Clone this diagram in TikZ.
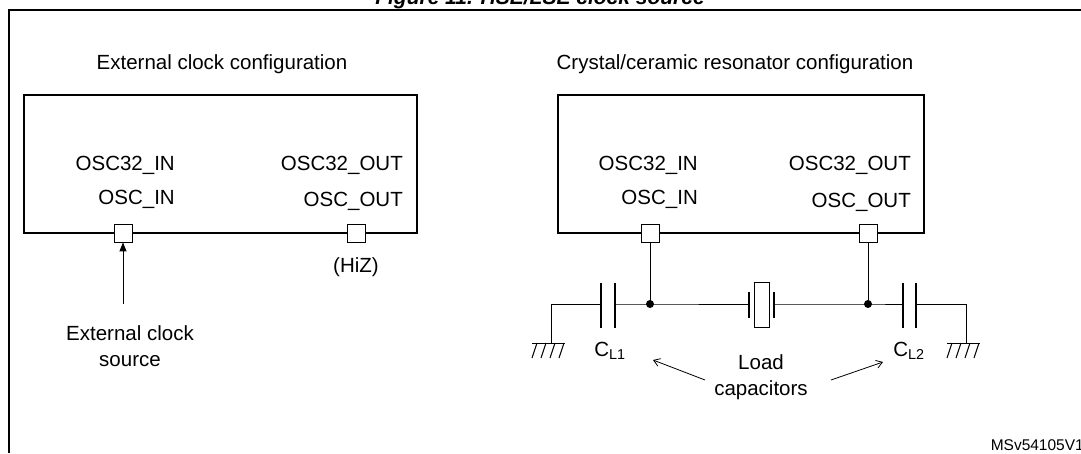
\documentclass[tikz,border=0pt]{standalone}
\usepackage{fontspec}
\setmainfont{Liberation Sans}
\usetikzlibrary{arrows.meta}
\begin{document}
\begin{tikzpicture}[x=1pt,y=-1pt,
  lbl/.style={inner sep=0pt,font=\fontsize{20.5}{26}\selectfont},
  box/.style={draw,line width=1.4pt,inner sep=0pt},
  pin/.style={draw,fill=white,line width=0.8pt,minimum size=18pt,inner sep=0pt},
  wire/.style={line width=0.9pt},
  plate/.style={line width=1.6pt},
  dot/.style={circle,fill,inner sep=0pt,minimum size=8pt}]
\useasboundingbox (0,0) rectangle (1081,453);
\begin{scope}
\clip (0,0) rectangle (1081,453);
\node[font=\bfseries\itshape\fontsize{21}{24}\selectfont,anchor=base] (title) at (540,4) {Figure 11. HSE/LSE clock source};
\draw[line width=1.2pt] (1081,10) -- (9,10) -- (9,453);
\end{scope}
% left
\node[lbl] (t1) at (222,64) {External clock configuration};
\node[box,minimum width=393pt,minimum height=138pt] (b1) at (220.5,164) {};
\node[lbl,anchor=east] (a1) at (175,165) {OSC32\_IN};
\node[lbl,anchor=east] (a2) at (175,199) {OSC\_IN};
\node[lbl,anchor=east] (a3) at (403,165) {OSC32\_OUT};
\node[lbl,anchor=east] (a4) at (403,201) {OSC\_OUT};
\node[pin] (p1) at (123,233) {};
\node[pin] (p2) at (356,233) {};
\node[lbl] (hiz) at (356,267) {(HiZ)};
\node[lbl,align=center] (src) at (130,346) {External clock\\source};
\coordinate (s0) at (123,304);
\draw[wire,-{Triangle[length=9pt,width=7pt]}] (s0) -- (p1.south);
% right
\node[lbl] (t2) at (735,64) {Crystal/ceramic resonator configuration};
\node[box,minimum width=366pt,minimum height=138pt] (b2) at (741,164) {};
\node[lbl,anchor=east] (c1) at (698,165) {OSC32\_IN};
\node[lbl,anchor=east] (c2) at (698,199) {OSC\_IN};
\node[lbl,anchor=east] (c3) at (911,165) {OSC32\_OUT};
\node[lbl,anchor=east] (c4) at (911,202) {OSC\_OUT};
\node[pin] (q1) at (650,233) {};
\node[pin] (q2) at (868,233) {};
\node[dot] (d1) at (650,304) {};
\node[dot] (d2) at (868,304) {};
\draw[wire] (q1.south) -- (d1.center);
\draw[wire] (q2.south) -- (d2.center);
% left cap + ground
\coordinate (g1) at (551,343);
\coordinate (g1t) at (551,304);
\draw[wire] (g1) -- (g1t) -- (601,304);
\draw[plate] (601,283) -- (601,328);
\draw[plate] (615,283) -- (615,328);
\draw[wire] (615,304) -- (d1.center) -- (749,304);
% crystal
\node[draw,line width=1pt,minimum width=15pt,minimum height=45pt,inner sep=0pt] (xt) at (761.5,304.5) {};
\draw[plate] (749,292) -- (749,318);
\draw[plate] (774,292) -- (774,318);
\draw[wire] (774,304) -- (d2.center) -- (903,304);
\draw[plate] (903,283) -- (903,328);
\draw[plate] (916,283) -- (916,328);
\coordinate (g2) at (966,343);
\coordinate (g2t) at (966,304);
\draw[wire] (916,304) -- (g2t) -- (g2);
% grounds
\foreach \gx in {548,963}{
  \draw[wire] (\gx-16,343) -- (\gx+17,343);
  \foreach \k in {0,1,2,3}{\draw[line width=1pt] (\gx-11+\k*9,343) -- (\gx-16+\k*9,358);}
}
\node[lbl] (cl1) at (610,351) {C\textsubscript{L1}};
\node[lbl] (cl2) at (909,351) {C\textsubscript{L2}};
\node[lbl,align=center] (load) at (761,377) {Load\\capacitors};
\coordinate (e1) at (653,360);
\coordinate (e2) at (883,362);
\draw[line width=0.8pt,-{Straight Barb[length=6pt,width=8pt]}] (705,380) -- (e1);
\draw[line width=0.8pt,-{Straight Barb[length=6pt,width=8pt]}] (831,380) -- (e2);
\node[anchor=east,inner sep=0pt,font=\fontsize{15.5}{18}\selectfont] (ms) at (1084,445) {MSv54105V1};
\end{tikzpicture}
\end{document}
